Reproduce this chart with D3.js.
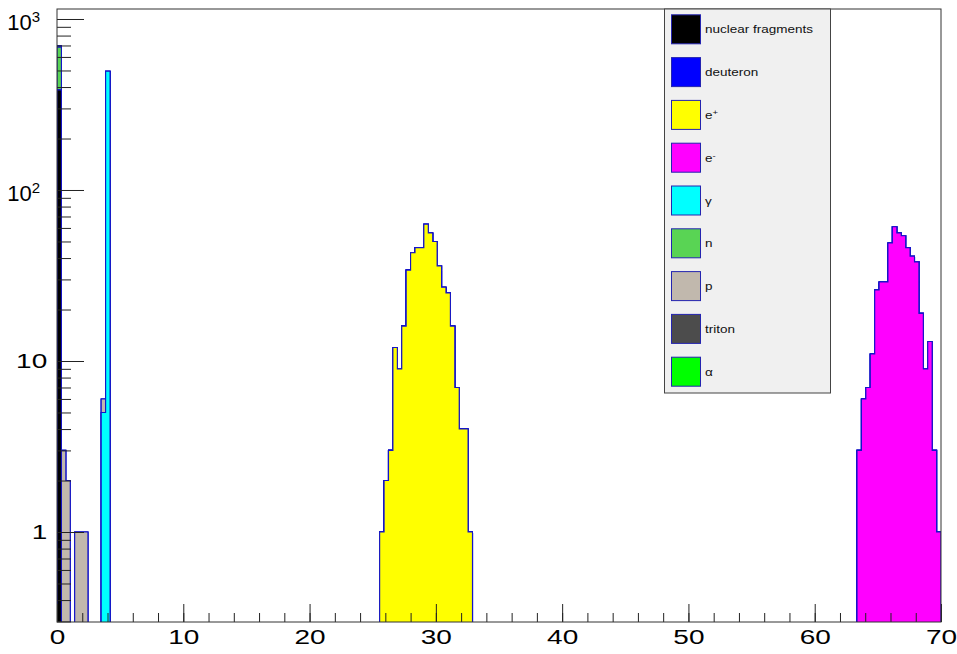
<html>
  <head>
    <script src="https://d3js.org/d3.v7.min.js"></script>
    <style>
      body { margin: 0; background: #fff; }
      text { font-family: "Liberation Sans", Arial, Helvetica, sans-serif; }
    </style>
  </head>
  <body>
    <script>
        // histogram binning: 200 bins between 0 and 70
        var binWidth = 0.35;
        var nBins = 200;

        // legend order = stacking order (first one is at the bottom)
        var seriesNames = ["nuclear fragments", "deuteron", "e+", "e-", "γ", "n", "p", "triton", "α"];
        var seriesColors = ["#000000", "#0000ff", "#ffff00", "#ff00ff", "#00ffff", "#59d454", "#c1b8ad", "#4c4c4c", "#00ff00"];

        // counts per species: first bin + consecutive bin contents
        var fragmentsFirstBin = 0, fragmentsCounts = [385];
        var deuteronFirstBin = 0, deuteronCounts = [];
        var ePlusFirstBin = 73, ePlusCounts = [1, 2, 3, 12, 9, 16, 34, 43, 46, 46, 63, 56, 50, 36, 27, 25, 16, 7, 4, 4, 1];
        var eMinusFirstBin = 181, eMinusCounts = [3, 6, 7, 11, 26, 29, 29, 49, 61, 56, 54, 46, 41, 38, 19, 9, 13, 3, 1];
        var gammaFirstBin = 10, gammaCounts = [5, 495];
        var neutronFirstBin = 0, neutronCounts = [300];
        var protonFirstBin = 1, protonCounts = [3, 2, 0, 1, 1, 1, 0, 0, 0, 1];
        var tritonFirstBin = 0, tritonCounts = [];
        var alphaFirstBin = 0, alphaCounts = [15];

        var xDomain = [0, 70];
        var yDomain = [0.2977, 1144];

        var firstBins = [fragmentsFirstBin, deuteronFirstBin, ePlusFirstBin, eMinusFirstBin, gammaFirstBin,
            neutronFirstBin, protonFirstBin, tritonFirstBin, alphaFirstBin];
        var countLists = [fragmentsCounts, deuteronCounts, ePlusCounts, eMinusCounts, gammaCounts,
            neutronCounts, protonCounts, tritonCounts, alphaCounts];

        var width = 957, height = 654;
        var padL = 57, padR = 941, padT = 9, padB = 622;

        var svg = d3.select("body").append("svg")
            .attr("width", width)
            .attr("height", height);

        var x = d3.scaleLinear().domain(xDomain).range([padL, padR]);
        var y = d3.scaleLog().domain(yDomain).range([padB, padT]);

        // full bin arrays, then cumulative sums for the stack
        var full = countLists.map(function (c, k) {
            var arr = new Array(nBins).fill(0);
            c.forEach(function (v, i) { arr[firstBins[k] + i] = v; });
            return arr;
        });
        var cum = [];
        full.forEach(function (arr, k) {
            cum.push(arr.map(function (v, i) { return v + (k > 0 ? cum[k - 1][i] : 0); }));
        });

        svg.append("defs").append("clipPath").attr("id", "plot")
            .append("rect")
            .attr("x", padL).attr("y", padT)
            .attr("width", padR - padL).attr("height", padB - padT);

        var area = d3.area()
            .curve(d3.curveStepAfter)
            .x(function (d) { return x(d.x); })
            .y0(padB + 5)
            .y1(function (d) { return d.v > 0 ? y(d.v) : padB + 5; });

        var hist = svg.append("g").attr("clip-path", "url(#plot)");

        // draw from the top of the stack down, like THStack
        for (var k = cum.length - 1; k >= 0; k--) {
            var pts = d3.range(nBins + 1).map(function (i) {
                return { x: i * binWidth, v: cum[k][Math.min(i, nBins - 1)] };
            });
            hist.append("path")
                .attr("d", area(pts))
                .attr("fill", seriesColors[k])
                .attr("stroke", "#1414c8")
                .attr("stroke-width", 1.1);
        }

        // ---- axes ----
        var stretch = 1.4;
        var isPow = function (v) { return Math.abs(Math.log10(v) - Math.round(Math.log10(v))) < 1e-6; };
        var yTicks = y.ticks();
        var yMajor = yTicks.filter(isPow);
        var yMinor = yTicks.filter(function (v) { return !isPow(v); });

        svg.append("g")
            .attr("transform", "translate(" + padL + ",0)")
            .call(d3.axisLeft(y).tickValues(yMinor).tickSize(-14).tickFormat(""))
            .call(function (g) { g.select(".domain").remove(); });

        var yAx = svg.append("g")
            .attr("transform", "translate(" + padL + ",0)")
            .call(d3.axisLeft(y).tickValues(yMajor).tickSize(-27).tickPadding(7))
            .call(function (g) { g.select(".domain").remove(); });

        yAx.selectAll("text")
            .attr("font-size", 20)
            .attr("fill", "#000")
            .attr("font-family", "Liberation Sans, Arial, sans-serif")
            .each(function (d) {
                var t = d3.select(this);
                var e = Math.round(Math.log10(d));
                if (e >= 2) {
                    // 10^n labels: no stretch, superscript exponent
                    t.text("").attr("x", -17).attr("dy", "0.5em").attr("font-size", 22);
                    t.append("tspan").text("10");
                    t.append("tspan").text(e).attr("font-size", 15).attr("dy", -8);
                } else {
                    t.attr("transform", "scale(" + stretch + ",1)")
                        .text(e === 0 ? "1" : "10");
                }
            });

        svg.append("g")
            .attr("transform", "translate(0," + padB + ")")
            .call(d3.axisBottom(x).ticks(35).tickSize(-9).tickFormat(""))
            .call(function (g) { g.select(".domain").remove(); });

        var xAx = svg.append("g")
            .attr("transform", "translate(0," + padB + ")")
            .call(d3.axisBottom(x).ticks(7).tickSize(-18).tickPadding(8).tickFormat(d3.format("d")))
            .call(function (g) { g.select(".domain").remove(); });

        xAx.selectAll("text")
            .attr("font-size", 20)
            .attr("fill", "#000")
            .attr("font-family", "Liberation Sans, Arial, sans-serif")
            .attr("transform", "scale(" + stretch + ",1)");

        svg.selectAll(".tick line").attr("stroke", "#222");

        // frame
        svg.append("rect")
            .attr("x", padL).attr("y", padT)
            .attr("width", padR - padL).attr("height", padB - padT)
            .attr("fill", "none")
            .attr("stroke", "#333")
            .attr("stroke-width", 1);

        // ---- legend ----
        var legend = svg.append("g");
        legend.append("rect")
            .attr("x", 664.5).attr("y", padT)
            .attr("width", 166).attr("height", 384)
            .attr("fill", "#f0f0f0")
            .attr("stroke", "#444")
            .attr("stroke-width", 1);

        var rowH = 42.8;
        var entry = legend.selectAll("g.entry")
            .data(seriesNames)
            .enter().append("g")
            .attr("class", "entry")
            .attr("transform", function (d, i) { return "translate(0," + (14.3 + i * rowH) + ")"; });

        entry.append("rect")
            .attr("x", 671.5).attr("y", 0.5)
            .attr("width", 29).attr("height", 29)
            .attr("fill", function (d, i) { return seriesColors[i]; })
            .attr("stroke", "#2424b0")
            .attr("stroke-width", 1);

        entry.append("text")
            .attr("transform", "translate(705,19) scale(1.35,1)")
            .attr("font-size", 10)
            .attr("fill", "#111")
            .each(function (d) {
                var t = d3.select(this);
                if (d === "e+" || d === "e-") {
                    t.append("tspan").text("e");
                    t.append("tspan").text(d === "e+" ? "+" : "-")
                        .attr("font-size", 7).attr("dy", "-0.6em");
                } else {
                    t.text(d);
                }
            });
    </script>
  </body>
</html>
